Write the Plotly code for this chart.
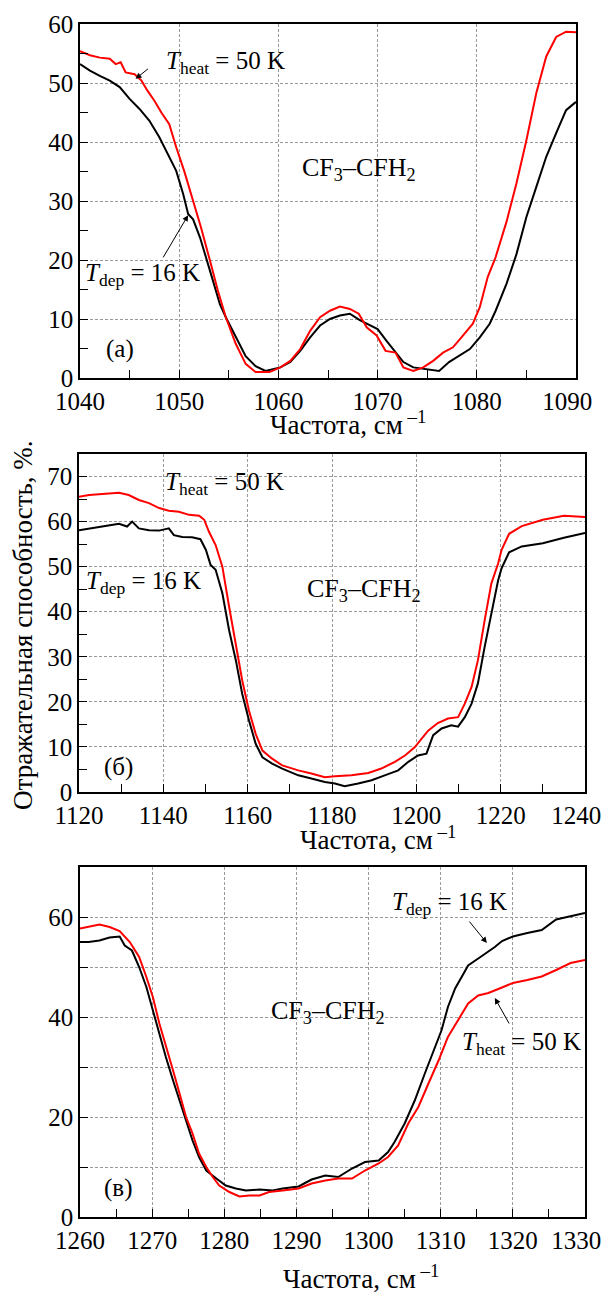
import plotly.graph_objects as go

# ---------------- data ----------------
# Panel (а): 1040-1090 cm^-1
a_freq_red = [1040.0, 1041.0, 1042.0, 1043.0, 1043.6, 1044.1, 1044.6, 1045.5, 1046.2, 1046.8, 1047.5, 1048.2,
              1049.0, 1049.7, 1050.5, 1051.4, 1052.2, 1053.1, 1053.9, 1054.7, 1055.7, 1056.7, 1057.7, 1059.1,
              1060.2, 1061.2, 1062.2, 1063.2, 1064.2, 1065.2, 1066.2, 1067.2, 1068.1, 1068.9, 1069.9, 1070.8,
              1071.8, 1072.6, 1073.6, 1074.6, 1075.6, 1076.6, 1077.6, 1078.6, 1079.6, 1080.3, 1081.1, 1081.9,
              1083.0, 1084.0, 1085.0, 1086.0, 1087.0, 1088.0, 1089.0, 1090.0]
a_red = [55.4, 54.7, 54.3, 54.1, 53.2, 53.5, 51.8, 51.5, 50.4, 48.7, 47.0, 45.0,
         43.0, 39.1, 35.1, 30.1, 25.5, 19.9, 14.8, 10.3, 5.8, 2.4, 1.0, 1.0,
         1.8, 2.9, 4.9, 8.0, 10.3, 11.4, 12.1, 11.7, 10.9, 8.6, 7.2, 4.6,
         4.3, 1.8, 1.2, 1.8, 2.9, 4.3, 5.2, 7.2, 9.2, 12.0, 17.1, 20.5,
         26.5, 33.0, 40.3, 48.3, 54.5, 57.8, 58.7, 58.6]
a_freq_blk = [1040.0, 1041.0, 1042.0, 1043.0, 1044.0, 1045.0, 1046.0, 1047.0, 1048.0, 1049.0, 1049.7, 1050.4,
              1050.9, 1051.4, 1052.1, 1053.1, 1054.1, 1054.7, 1055.7, 1056.7, 1057.7, 1058.7, 1060.2, 1061.2,
              1062.2, 1063.2, 1064.2, 1065.2, 1066.2, 1067.2, 1068.2, 1069.2, 1070.0, 1070.9, 1071.8, 1072.6,
              1073.6, 1074.9, 1076.2, 1077.2, 1078.2, 1079.3, 1080.3, 1081.3, 1081.9, 1083.0, 1084.0, 1085.0,
              1086.0, 1087.0, 1088.0, 1089.0, 1090.0]
a_blk = [53.2, 52.1, 51.2, 50.4, 49.3, 47.3, 45.6, 43.6, 40.8, 37.4, 35.1, 31.2,
         27.8, 26.9, 23.8, 18.2, 12.5, 10.3, 6.9, 3.7, 2.0, 1.2, 1.8, 2.7,
         4.6, 6.9, 8.9, 10.0, 10.6, 10.9, 9.8, 8.9, 8.3, 6.3, 4.3, 2.7,
         1.8, 1.5, 1.2, 2.7, 3.8, 4.9, 6.9, 9.2, 11.4, 16.0, 21.0, 27.3,
         32.4, 37.5, 41.5, 45.4, 46.8]

# Panel (б): 1120-1240 cm^-1
b_freq_red = [1120.0, 1122.4, 1125.5, 1129.5, 1131.8, 1134.2, 1136.6, 1139.0, 1141.3, 1143.7, 1146.1, 1148.5,
              1149.7, 1150.8, 1152.4, 1154.0, 1155.6, 1157.2, 1158.7, 1160.3, 1161.9, 1163.5, 1165.8, 1168.2,
              1172.0, 1175.1, 1178.3, 1180.7, 1184.6, 1188.6, 1191.7, 1194.9, 1197.3, 1199.6, 1201.2, 1202.8,
              1205.1, 1207.5, 1209.9, 1211.5, 1213.1, 1214.6, 1216.2, 1217.8, 1219.4, 1220.2, 1222.0, 1225.0,
              1230.0, 1235.0, 1240.0]
b_red = [65.5, 65.9, 66.1, 66.4, 65.9, 64.8, 64.1, 63.0, 62.4, 62.2, 61.5, 61.3,
         60.4, 57.8, 54.8, 50.0, 41.1, 32.9, 24.8, 18.1, 12.9, 9.2, 7.4, 5.9,
         4.8, 4.1, 3.3, 3.5, 3.7, 4.2, 5.2, 6.7, 8.1, 9.9, 11.8, 13.6,
         15.3, 16.3, 16.6, 19.6, 23.3, 29.2, 38.1, 46.3, 50.7, 53.7, 57.3, 59.0,
         60.4, 61.3, 61.0]
b_freq_blk = [1120.0, 1122.4, 1125.5, 1129.5, 1131.4, 1132.6, 1134.2, 1136.6, 1139.0, 1141.3, 1142.5, 1144.5,
              1146.8, 1148.8, 1150.1, 1151.2, 1152.4, 1154.0, 1155.6, 1157.2, 1158.7, 1160.3, 1161.9, 1163.5,
              1165.8, 1168.2, 1172.0, 1175.1, 1178.3, 1180.7, 1183.0, 1186.2, 1189.4, 1192.5, 1195.7, 1198.1,
              1200.4, 1202.4, 1204.0, 1206.0, 1208.3, 1209.9, 1211.5, 1213.1, 1214.6, 1216.2, 1217.8, 1219.4,
              1220.2, 1222.0, 1225.0, 1230.0, 1235.0, 1240.0]
b_blk = [58.1, 58.5, 58.9, 59.5, 58.9, 60.0, 58.5, 58.1, 58.0, 58.5, 57.0, 56.6,
         56.5, 56.1, 53.7, 50.4, 49.3, 44.1, 35.9, 29.2, 21.8, 15.9, 10.7, 7.7,
         6.3, 5.2, 3.7, 3.0, 2.2, 1.9, 1.3, 1.9, 2.6, 3.7, 4.8, 6.7,
         8.1, 8.5, 12.6, 14.1, 14.8, 14.5, 16.6, 19.6, 24.1, 32.2, 39.6, 47.0,
         49.6, 53.2, 54.5, 55.2, 56.4, 57.5]

# Panel (в): 1260-1330 cm^-1
c_freq_red = [1260.0, 1261.2, 1262.7, 1264.1, 1265.5, 1266.9, 1268.2, 1269.2, 1270.1, 1271.0, 1271.9, 1272.9,
              1273.8, 1274.7, 1275.6, 1276.5, 1277.5, 1278.4, 1279.3, 1280.7, 1282.1, 1283.5, 1284.9, 1286.2,
              1288.1, 1290.3, 1292.1, 1294.0, 1295.8, 1297.7, 1299.5, 1301.4, 1302.7, 1304.1, 1305.5, 1306.9,
              1308.3, 1309.7, 1311.0, 1312.4, 1313.8, 1315.2, 1316.6, 1318.5, 1320.0, 1322.0, 1324.0, 1326.0,
              1328.0, 1330.0]
c_red = [57.7, 58.1, 58.5, 58.0, 57.2, 55.0, 52.0, 48.0, 44.0, 38.7, 34.0, 29.3,
         24.7, 20.0, 16.7, 12.7, 10.0, 8.0, 6.3, 5.0, 4.1, 4.3, 4.3, 5.0,
         5.3, 5.7, 6.7, 7.3, 7.7, 7.7, 9.3, 10.7, 12.0, 14.3, 18.7, 22.0,
         26.7, 31.3, 36.0, 39.3, 42.7, 44.3, 44.8, 45.9, 46.8, 47.4, 48.1, 49.4,
         50.8, 51.4]
c_freq_blk = [1260.0, 1261.2, 1262.7, 1264.1, 1265.5, 1266.2, 1267.2, 1268.2, 1269.2, 1270.1, 1271.0, 1271.9,
              1272.9, 1273.8, 1274.7, 1275.6, 1276.5, 1277.5, 1278.9, 1280.2, 1281.6, 1283.0, 1284.9, 1286.7,
              1288.1, 1290.3, 1292.1, 1294.0, 1295.8, 1297.7, 1299.5, 1301.4, 1302.7, 1303.6, 1305.0, 1306.4,
              1307.8, 1309.2, 1310.1, 1311.0, 1312.0, 1312.9, 1313.8, 1315.2, 1316.6, 1317.5, 1318.5, 1320.0,
              1322.0, 1324.0, 1326.0, 1328.0, 1330.0]
c_blk = [55.0, 55.0, 55.3, 55.9, 56.1, 54.3, 53.3, 50.0, 46.0, 41.3, 36.7, 32.0,
         27.3, 23.3, 19.3, 15.3, 12.0, 9.3, 7.7, 6.3, 5.7, 5.3, 5.5, 5.3,
         5.7, 6.1, 7.5, 8.3, 8.0, 9.7, 11.0, 11.3, 13.0, 15.0, 18.7, 23.3,
         28.7, 34.0, 37.3, 42.0, 45.7, 48.0, 50.3, 51.7, 53.0, 54.0, 55.2, 56.1,
         56.8, 57.4, 59.5, 60.1, 60.8]

# tick labels
a_ticks = [1040, 1050, 1060, 1070, 1080, 1090]
b_ticks = [1120, 1140, 1160, 1180, 1200, 1220, 1240]
c_ticks = [1260, 1270, 1280, 1290, 1300, 1310, 1320, 1330]
c_yticks = [0, 10, 20, 30, 40, 50, 60, 70]
c_ytext = ["0", "", "20", "", "40", "", "60", ""]

panel_labels = ["(а)", "(б)", "(в)"]
molecule = "CF<sub>3</sub>–CFH<sub>2</sub>"
t_heat = "<i>T</i><sub>heat</sub> = 50 K"
t_dep = "<i>T</i><sub>dep</sub> = 16 K"
x_title = "Частота, см<sup> –1</sup>"
y_title = "Отражательная способность, %."

# ---------------- figure ----------------
W, H = 608, 1294
FONT = "Liberation Serif"
RED = "#ff0000"
BLK = "#000000"
FS = 25
PAD = "\u2007\u2009"   # keeps the last tick label inside the page, as in the original

def labels(vals):
    t = [str(v) for v in vals]
    t[-1] = t[-1] + PAD
    return t

fig = go.Figure()

def add_pair(fx_b, yb, fx_r, yr, xa, ya):
    fig.add_trace(go.Scatter(x=fx_b, y=yb, mode="lines", line=dict(color=BLK, width=2),
                             xaxis=xa, yaxis=ya, showlegend=False))
    fig.add_trace(go.Scatter(x=fx_r, y=yr, mode="lines", line=dict(color=RED, width=2),
                             xaxis=xa, yaxis=ya, showlegend=False))

add_pair(a_freq_blk, a_blk, a_freq_red, a_red, "x", "y")
add_pair(b_freq_blk, b_blk, b_freq_red, b_red, "x2", "y2")
add_pair(c_freq_blk, c_blk, c_freq_red, c_red, "x3", "y3")

def px2x(p):
    return p / W

def py2y(p):
    return 1 - p / H

common = dict(showline=True, linecolor="black", linewidth=1.5, mirror=True, automargin=False,
              ticks="inside", ticklen=8, tickwidth=1.3, tickcolor="black",
              ticklabeloverflow="allow",
              showgrid=True, gridcolor="#9a9a9a", gridwidth=1, griddash="3px,2px",
              zeroline=False, tickfont=dict(family=FONT, size=FS, color="black"))
minor_kw = dict(ticks="inside", ticklen=8, tickwidth=1.3, tickcolor="black", showgrid=False)

layout = dict(
    width=W, height=H, margin=dict(l=0, r=0, t=0, b=0, autoexpand=False),
    paper_bgcolor="white", plot_bgcolor="white",
    font=dict(family=FONT, size=FS, color="black"),
    xaxis=dict(common, domain=[px2x(80), px2x(576)], anchor="y", range=[1040, 1090],
               tickvals=a_ticks, ticktext=labels(a_ticks),
               minor=dict(minor_kw, dtick=5, tick0=1040)),
    yaxis=dict(common, domain=[py2y(378), py2y(24)], anchor="x", range=[0, 60],
               tickvals=[0, 10, 20, 30, 40, 50, 60],
               minor=dict(minor_kw, dtick=5, tick0=0)),
    xaxis2=dict(common, domain=[px2x(79), px2x(585)], anchor="y2", range=[1120, 1240],
                tickvals=b_ticks, ticktext=labels(b_ticks),
                minor=dict(minor_kw, dtick=10, tick0=1120)),
    yaxis2=dict(common, domain=[py2y(792), py2y(454)], anchor="x2", range=[0, 75],
                tickvals=[0, 10, 20, 30, 40, 50, 60, 70],
                minor=dict(minor_kw, dtick=5, tick0=0)),
    xaxis3=dict(common, domain=[px2x(80), px2x(585)], anchor="y3", range=[1260, 1330],
                tickvals=c_ticks, ticktext=labels(c_ticks),
                minor=dict(minor_kw, dtick=5, tick0=1260)),
    yaxis3=dict(common, domain=[py2y(1217), py2y(867)], anchor="x3", range=[0, 70],
                tickvals=c_yticks, ticktext=c_ytext),
)
fig.update_layout(**layout)

ann = []
def txt(text, x, y, xr, yr, xanchor="center", size=FS):
    ann.append(dict(text=text, x=x, y=y, xref=xr, yref=yr, showarrow=False,
                    xanchor=xanchor, yanchor="middle",
                    font=dict(family=FONT, size=size, color="black")))

def arrow(x0, y0, x1, y1, xr, yr):
    ann.append(dict(text="", x=x1, y=y1, ax=x0, ay=y0, xref=xr, yref=yr, axref=xr, ayref=yr,
                    showarrow=True, arrowhead=2, arrowsize=1.2, arrowwidth=1, arrowcolor="black"))

MS = 26
# panel (а)
txt(molecule, 1068.1, 35.5, "x", "y", size=MS)
txt(panel_labels[0], 1044.0, 5.0, "x", "y")
txt(t_heat, 1048.5, 53.4, "x", "y", xanchor="left")
arrow(1047.0, 52.6, 1045.6, 50.7, "x", "y")
txt(t_dep, 1040.3, 17.6, "x", "y", xanchor="left")
arrow(1048.3, 20.2, 1050.9, 27.6, "x", "y")

# panel (б)
txt(molecule, 1187.5, 44.9, "x2", "y2", size=MS)
txt(panel_labels[1], 1129.4, 5.6, "x2", "y2")
txt(t_heat, 1139.9, 68.5, "x2", "y2", xanchor="left")
txt(t_dep, 1121.1, 46.5, "x2", "y2", xanchor="left")

# panel (в)
txt(molecule, 1294.4, 41.0, "x3", "y3", size=MS)
txt(panel_labels[2], 1265.3, 5.8, "x3", "y3")
txt(t_dep, 1303.0, 62.6, "x3", "y3", xanchor="left")
arrow(1313.8, 59.4, 1316.4, 54.8, "x3", "y3")
txt(t_heat, 1312.7, 34.8, "x3", "y3", xanchor="left")
arrow(1319.6, 38.4, 1317.5, 43.8, "x3", "y3")

# axis titles
TS = 27
txt(x_title, px2x(348), py2y(423), "paper", "paper", size=TS)
txt(x_title, px2x(378), py2y(838), "paper", "paper", size=TS)
txt(x_title, px2x(361), py2y(1277), "paper", "paper", size=TS)
ann.append(dict(text=y_title, x=px2x(23), y=py2y(625), xref="paper", yref="paper",
                showarrow=False, textangle=-90, xanchor="center", yanchor="middle",
                font=dict(family=FONT, size=TS, color="black")))

fig.update_layout(annotations=ann)
fig.write_html("out.html")
